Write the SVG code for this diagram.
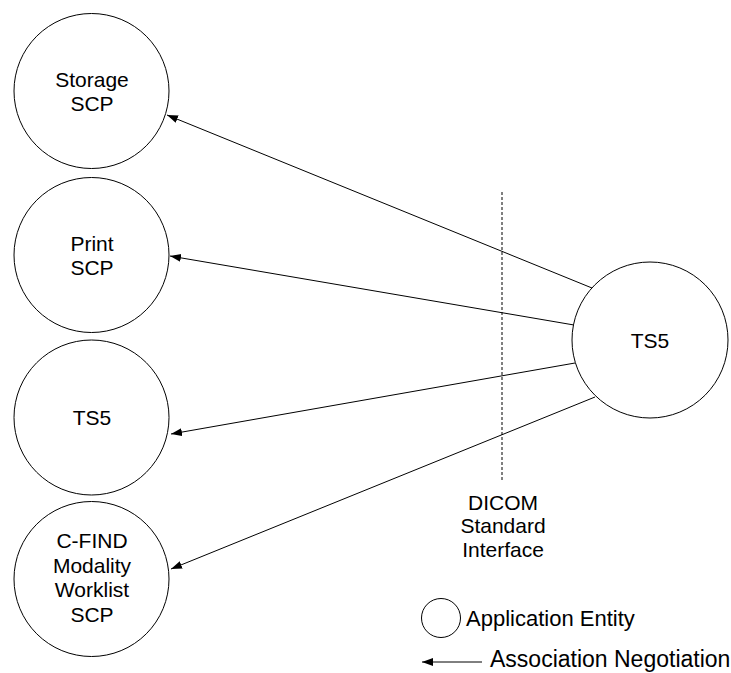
<svg xmlns="http://www.w3.org/2000/svg" width="731" height="673" viewBox="0 0 731 673">
  <style>
    .node { fill: #ffffff; stroke: #000000; stroke-width: 1; }
    .lbl { font-family: "Liberation Sans", Arial, sans-serif; font-size: 21px; fill: #000000; text-anchor: middle; }
    .leg { font-family: "Liberation Sans", Arial, sans-serif; font-size: 22px; fill: #000000; }
    .conn { stroke: #000000; stroke-width: 1; fill: none; }
    .dash { stroke: #000000; stroke-width: 1; stroke-dasharray: 3 2; fill: none; }
  </style>
  <defs>
    <marker id="arrow" markerUnits="userSpaceOnUse" markerWidth="12" markerHeight="9" refX="11" refY="4" orient="auto">
      <path d="M0,0 L11,4 L0,8 Z" fill="#000000"/>
    </marker>
  </defs>
  <rect width="731" height="673" fill="#ffffff"/>

  <g id="storage-scp">
    <circle class="node" cx="91.5" cy="91" r="77.5"/>
    <text class="lbl" x="92" y="87">Storage</text>
    <text class="lbl" x="92" y="111">SCP</text>
  </g>
  <g id="print-scp">
    <circle class="node" cx="91.5" cy="255" r="77.5"/>
    <text class="lbl" x="92" y="251">Print</text>
    <text class="lbl" x="92" y="275">SCP</text>
  </g>
  <g id="ts5-left">
    <circle class="node" cx="91.5" cy="417.5" r="77.5"/>
    <text class="lbl" x="92" y="425">TS5</text>
  </g>
  <g id="cfind-mwl-scp">
    <circle class="node" cx="91.5" cy="579" r="77.5"/>
    <text class="lbl" x="92" y="548">C-FIND</text>
    <text class="lbl" x="92" y="573">Modality</text>
    <text class="lbl" x="92" y="597">Worklist</text>
    <text class="lbl" x="92" y="622">SCP</text>
  </g>
  <g id="ts5-right">
    <circle class="node" cx="650" cy="340" r="78"/>
    <text class="lbl" x="650" y="348">TS5</text>
  </g>

  <g id="interface">
    <line class="dash" x1="502" y1="192" x2="502" y2="482"/>
    <text class="lbl" x="503" y="510">DICOM</text>
    <text class="lbl" x="503" y="533">Standard</text>
    <text class="lbl" x="503" y="557">Interface</text>
  </g>

  <g id="connectors">
    <line class="conn" x1="592" y1="288" x2="167" y2="115" marker-end="url(#arrow)"/>
    <line class="conn" x1="574" y1="325" x2="170" y2="256" marker-end="url(#arrow)"/>
    <line class="conn" x1="575" y1="363" x2="171" y2="434" marker-end="url(#arrow)"/>
    <line class="conn" x1="595" y1="397" x2="171" y2="569" marker-end="url(#arrow)"/>
  </g>

  <g id="legend">
    <circle class="node" cx="441" cy="618" r="19.5"/>
    <text class="leg" x="466" y="626">Application Entity</text>
    <line class="conn" x1="482" y1="662" x2="422" y2="662" marker-end="url(#arrow)"/>
    <text class="leg" x="490" y="667" style="font-size:23px">Association Negotiation</text>
  </g>
</svg>
